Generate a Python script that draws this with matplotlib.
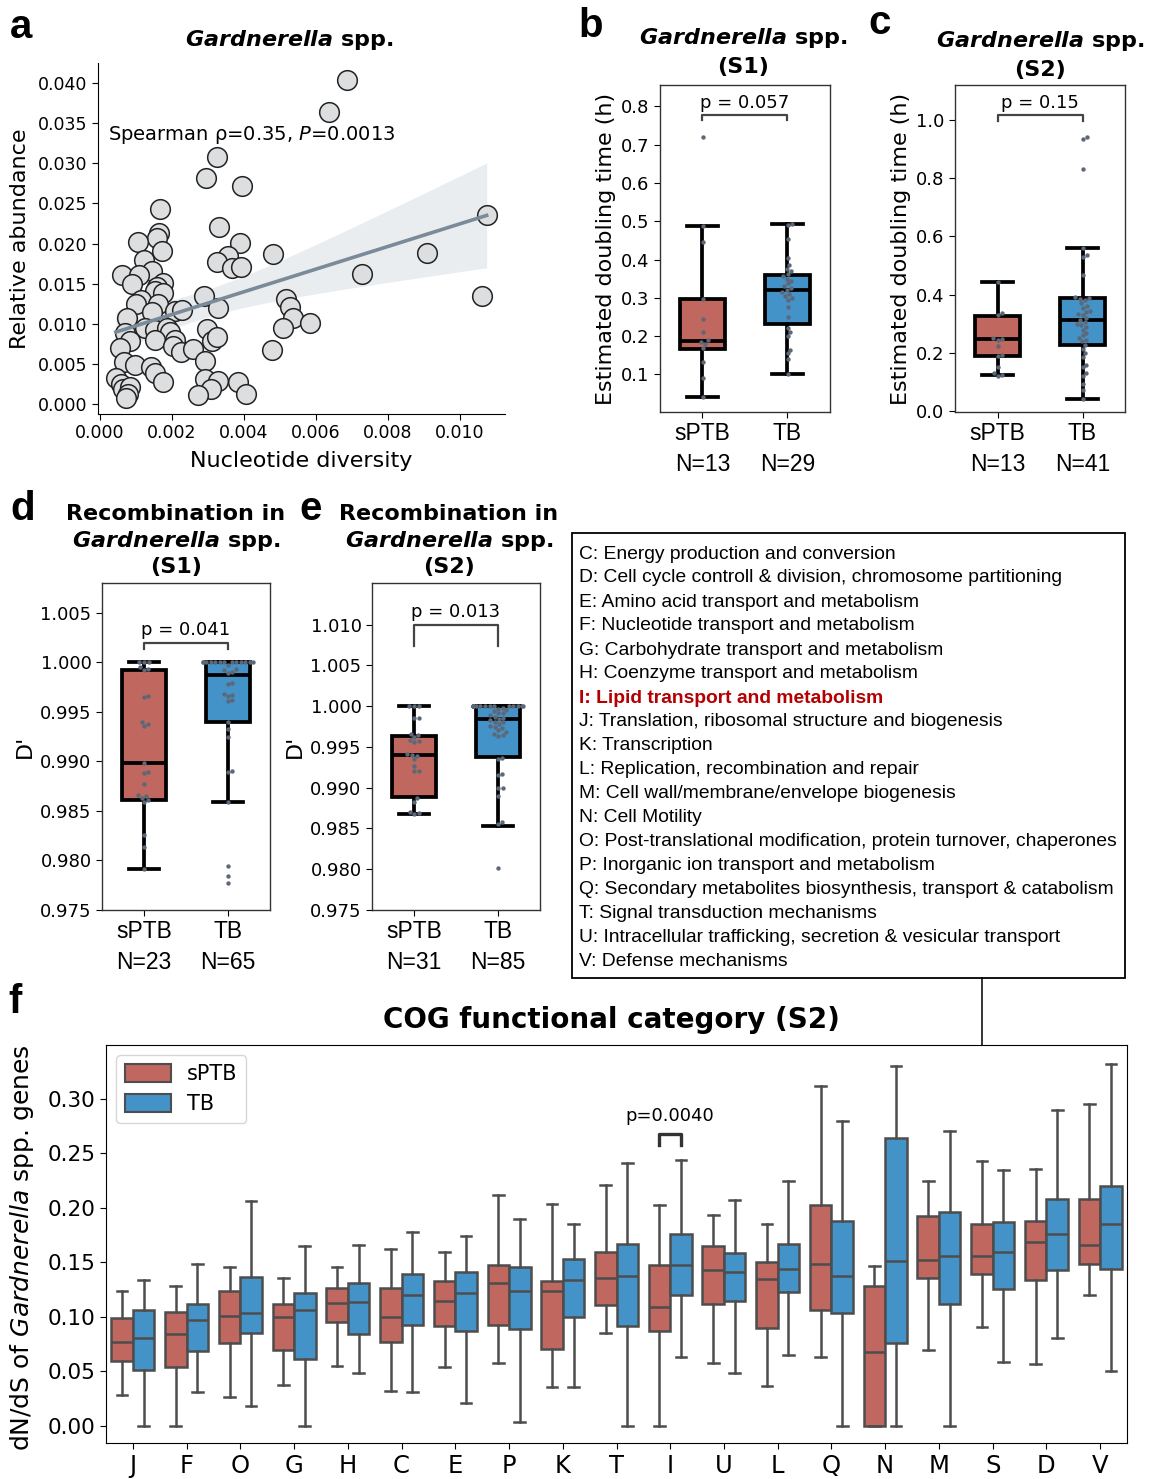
import numpy as np
import matplotlib
matplotlib.use("Agg")
import matplotlib.pyplot as plt
from matplotlib.patches import Rectangle, Patch
from matplotlib.lines import Line2D

# ---------------- data ----------------
# panel a: nucleotide diversity vs relative abundance
a_div = [0.00685, 0.00637, 0.00324, 0.00294, 0.00394, 0.00167, 0.00331, 0.00165, 0.00157,
         0.00171, 0.00389, 0.00106, 0.00481, 0.00907, 0.00355, 0.00326, 0.00368, 0.00391,
         0.00122, 0.00145, 0.00060, 0.00109, 0.00727, 0.00088, 0.00176, 0.00157, 0.00153,
         0.00174, 0.00289, 0.01060, 0.00113, 0.00517, 0.00100, 0.00162, 0.00208, 0.00227,
         0.00329, 0.00528, 0.00144, 0.01074, 0.00074, 0.00535, 0.00583, 0.00069, 0.00125,
         0.00153, 0.00185, 0.00194, 0.00296, 0.00507, 0.00083, 0.00153, 0.00208, 0.00310,
         0.00324, 0.00056, 0.00202, 0.00225, 0.00257, 0.00479, 0.00067, 0.00097, 0.00292,
         0.00141, 0.00153, 0.00176, 0.00044, 0.00057, 0.00063, 0.00083, 0.00078, 0.00072,
         0.00292, 0.00329, 0.00307, 0.00271, 0.00384, 0.00405]
a_abund = [0.0404, 0.0364, 0.0308, 0.0282, 0.0272, 0.0243, 0.0221, 0.0213, 0.0207,
           0.0191, 0.0201, 0.0202, 0.0187, 0.0188, 0.0184, 0.0177, 0.0170, 0.0171,
           0.0179, 0.0166, 0.0161, 0.0161, 0.0162, 0.0150, 0.0151, 0.0146, 0.0141,
           0.0138, 0.0134, 0.0135, 0.0130, 0.0131, 0.0124, 0.0125, 0.0116, 0.0117,
           0.0119, 0.0121, 0.0115, 0.0236, 0.0107, 0.0107, 0.0101, 0.0089, 0.0095,
           0.0092, 0.0095, 0.0090, 0.0093, 0.0095, 0.0078, 0.0080, 0.0080, 0.0078,
           0.0083, 0.0070, 0.0072, 0.0065, 0.0068, 0.0067, 0.0052, 0.0049, 0.0054,
           0.0046, 0.0038, 0.0027, 0.0032, 0.0025, 0.0019, 0.0021, 0.0012, 0.0008,
           0.0031, 0.0029, 0.0019, 0.0011, 0.0027, 0.0012]

groups = ["sPTB", "TB"]

# box statistics: (whisker low, q1, median, q3, whisker high)
b_box = [(0.040, 0.166, 0.187, 0.298, 0.487), (0.102, 0.233, 0.320, 0.361, 0.494)]
c_box = [(0.123, 0.188, 0.246, 0.327, 0.443), (0.043, 0.228, 0.3125, 0.390, 0.559)]
d_box = [(0.9791, 0.98615, 0.98985, 0.99926, 1.0), (0.98592, 0.99398, 0.99868, 1.0, 1.0)]
e_box = [(0.98683, 0.98887, 0.99405, 0.99637, 1.0), (0.98536, 0.99376, 0.99841, 1.0, 1.0)]

# individual samples
b_sptb = [0.72, 0.487, 0.446, 0.298, 0.246, 0.21, 0.19, 0.186, 0.18, 0.17, 0.132, 0.092, 0.04]
b_tb = [0.494, 0.49, 0.455, 0.405, 0.385, 0.375, 0.37, 0.362, 0.356, 0.35, 0.345, 0.338,
        0.33, 0.325, 0.32, 0.315, 0.31, 0.305, 0.30, 0.295, 0.275, 0.25, 0.222, 0.21,
        0.20, 0.165, 0.155, 0.14, 0.102]
c_sptb = [0.443, 0.336, 0.33, 0.25, 0.248, 0.245, 0.222, 0.193, 0.188, 0.153, 0.13, 0.123, 0.122]
c_tb = [0.941, 0.935, 0.833, 0.559, 0.5375, 0.53, 0.467, 0.392, 0.388, 0.385, 0.38, 0.37,
        0.361, 0.355, 0.345, 0.34, 0.335, 0.33, 0.32, 0.312, 0.305, 0.30, 0.295, 0.29,
        0.28, 0.27, 0.26, 0.25, 0.245, 0.24, 0.228, 0.215, 0.20, 0.1875, 0.16, 0.15,
        0.13, 0.12, 0.094, 0.0716, 0.043]
d_sptb = [1.0, 1.0, 1.0, 0.9995, 0.9993, 0.9992, 0.9966, 0.9965, 0.9940, 0.9938, 0.9936,
          0.9898, 0.9889, 0.9888, 0.9877, 0.9866, 0.9865, 0.9863, 0.9861, 0.9859, 0.9826,
          0.9814, 0.9791]
d_tb = [1.0, 1.0, 1.0, 1.0, 1.0, 1.0, 1.0, 1.0, 1.0, 1.0, 1.0, 1.0, 1.0,
        0.9997, 0.9993, 0.9992, 0.9990, 0.9989, 0.9979, 0.9978, 0.9968, 0.9967, 0.9966,
        0.9962, 0.9961, 0.9940, 0.9933, 0.9925, 0.9890, 0.9889, 0.9859, 0.9794, 0.9784,
        0.9777]
e_sptb = [1.0, 1.0, 1.0, 0.9986, 0.9985, 0.9966, 0.9964, 0.9962, 0.9959, 0.9957, 0.9956,
          0.9941, 0.9940, 0.9939, 0.9935, 0.9926, 0.9921, 0.9920, 0.9887, 0.9883, 0.9870,
          0.9869, 0.9868]
e_tb = [1.0, 1.0, 1.0, 1.0, 1.0, 1.0, 1.0, 1.0, 1.0, 1.0, 1.0, 1.0, 1.0, 1.0, 1.0, 1.0,
        0.9998, 0.9997, 0.9995, 0.9994, 0.9992, 0.9991, 0.9989, 0.9987, 0.9986, 0.9984,
        0.9983, 0.9981, 0.9980, 0.9978, 0.9976, 0.9975, 0.9973, 0.9971, 0.9968, 0.9966,
        0.9964, 0.9963, 0.9937, 0.9935, 0.9917, 0.9915, 0.9900, 0.9899, 0.9890, 0.9858,
        0.9855, 0.9802]

b_n = [13, 29]
c_n = [13, 41]
d_n = [23, 65]
e_n = [31, 85]
b_p, c_p, d_p, e_p = "p = 0.057", "p = 0.15", "p = 0.041", "p = 0.013"

# panel f: dN/dS per COG category (whisker low, q1, median, q3, whisker high)
cog_cats = ["J", "F", "O", "G", "H", "C", "E", "P", "K", "T",
            "I", "U", "L", "Q", "N", "M", "S", "D", "V"]
f_sptb = [(0.028, 0.060, 0.077, 0.099, 0.124), (0.000, 0.054, 0.084, 0.105, 0.128),
          (0.027, 0.076, 0.101, 0.124, 0.146), (0.038, 0.070, 0.100, 0.112, 0.136),
          (0.055, 0.095, 0.113, 0.127, 0.146), (0.032, 0.077, 0.100, 0.127, 0.162),
          (0.054, 0.092, 0.115, 0.133, 0.160), (0.058, 0.093, 0.131, 0.148, 0.212),
          (0.036, 0.071, 0.124, 0.133, 0.204), (0.085, 0.111, 0.136, 0.160, 0.221),
          (0.000, 0.087, 0.109, 0.148, 0.203), (0.058, 0.112, 0.143, 0.165, 0.194),
          (0.037, 0.090, 0.135, 0.150, 0.185), (0.063, 0.106, 0.149, 0.203, 0.312),
          (0.000, 0.000, 0.068, 0.128, 0.147), (0.070, 0.136, 0.152, 0.193, 0.225),
          (0.091, 0.139, 0.156, 0.185, 0.243), (0.057, 0.134, 0.169, 0.188, 0.236),
          (0.120, 0.149, 0.166, 0.208, 0.295)]
f_tb = [(0.000, 0.051, 0.081, 0.106, 0.134), (0.031, 0.069, 0.097, 0.112, 0.149),
        (0.018, 0.085, 0.104, 0.137, 0.206), (0.000, 0.061, 0.106, 0.122, 0.165),
        (0.049, 0.084, 0.114, 0.131, 0.166), (0.031, 0.093, 0.120, 0.139, 0.178),
        (0.021, 0.087, 0.122, 0.141, 0.174), (0.004, 0.089, 0.124, 0.146, 0.190),
        (0.036, 0.100, 0.134, 0.153, 0.185), (0.000, 0.092, 0.138, 0.167, 0.241),
        (0.063, 0.120, 0.148, 0.176, 0.244), (0.049, 0.115, 0.141, 0.159, 0.207),
        (0.065, 0.123, 0.144, 0.167, 0.225), (0.000, 0.104, 0.138, 0.188, 0.280),
        (0.000, 0.076, 0.151, 0.264, 0.330), (0.000, 0.112, 0.156, 0.196, 0.271),
        (0.059, 0.126, 0.160, 0.187, 0.235), (0.081, 0.143, 0.176, 0.208, 0.290),
        (0.050, 0.144, 0.185, 0.220, 0.332)]
f_sig_cat = "I"
f_sig_text = "p=0.0040"

cog_legend = [
    "C: Energy production and conversion",
    "D: Cell cycle controll & division, chromosome partitioning",
    "E: Amino acid transport and metabolism",
    "F: Nucleotide transport and metabolism",
    "G: Carbohydrate transport and metabolism",
    "H: Coenzyme transport and metabolism",
    "I: Lipid transport and metabolism",
    "J: Translation, ribosomal structure and biogenesis",
    "K: Transcription",
    "L: Replication, recombination and repair",
    "M: Cell wall/membrane/envelope biogenesis",
    "N: Cell Motility",
    "O: Post-translational modification, protein turnover, chaperones",
    "P: Inorganic ion transport and metabolism",
    "Q: Secondary metabolites biosynthesis, transport & catabolism",
    "T: Signal transduction mechanisms",
    "U: Intracellular trafficking, secretion & vesicular transport",
    "V: Defense mechanisms",
]

# ---------------- style ----------------
C_SPTB = "#c0675f"
C_TB = "#4393c8"
C_DOT = "#5c6878"
ARIAL = "Liberation Sans"
plt.rcParams["font.family"] = ["DejaVu Sans"]
plt.rcParams["mathtext.fontset"] = "dejavusans"

W, H = 1154, 1479
fig = plt.figure(figsize=(W / 100, H / 100), dpi=100)


def ax_px(left, top, right, bottom):
    return fig.add_axes([left / W, 1 - bottom / H, (right - left) / W, (bottom - top) / H])


def stats_of(t, label=""):
    lo, q1, med, q3, hi = t
    return dict(whislo=lo, q1=q1, med=med, q3=q3, whishi=hi, fliers=[], label=label)


def swarm_offsets(ax, center, values, dot_px=4.6, max_off=0.3):
    """Beeswarm placement in display space; returns data x positions."""
    tr = ax.transData
    inv = tr.inverted()
    cx = tr.transform((center, 0))[0]
    lim_px = tr.transform((center + max_off, 0))[0] - cx
    placed = []
    xs = np.zeros(len(values))
    for i in np.argsort(values):
        y = tr.transform((center, values[i]))[1]
        neigh = [(px, py) for px, py in placed if abs(py - y) < dot_px]
        cands = [cx]
        for px, py in neigh:
            dx = np.sqrt(max(dot_px ** 2 - (py - y) ** 2, 0))
            cands += [px + dx, px - dx]
        cands.sort(key=lambda c: abs(c - cx))
        pos = cx
        for c in cands:
            if all((c - px) ** 2 + (y - py) ** 2 >= dot_px ** 2 - 1e-6 for px, py in neigh):
                pos = c
                break
        pos = min(max(pos, cx - lim_px), cx + lim_px)
        placed.append((pos, y))
        xs[i] = inv.transform((pos, y))[0]
    return xs


def letter(x, y, s):
    fig.text(x / W, 1 - y / H, s, fontsize=29, fontweight="bold", family=ARIAL,
             va="baseline", ha="left")


TITLE_FS = 16

# ---------------- panel a ----------------
ax = ax_px(98, 63, 505, 414)
ax.set_xlim(-0.0000556, 0.01125)
ax.set_ylim(-0.00125, 0.0425)
x = np.array(a_div)
y = np.array(a_abund)
slope, icpt = np.polyfit(x, y, 1)
xx = np.linspace(x.min(), x.max(), 100)
yy = icpt + slope * xx
n = len(x)
resid = y - (icpt + slope * x)
s = np.sqrt(np.sum(resid ** 2) / (n - 2))
sxx = np.sum((x - x.mean()) ** 2)
half = 1.99 * s * np.sqrt(1 / n + (xx - x.mean()) ** 2 / sxx)
ax.fill_between(xx, yy - half, yy + half, color="#778899", alpha=0.15, lw=0, zorder=1)
ax.scatter(x, y, s=200, facecolor="#dcdee0", edgecolor="#222222", lw=1.1, zorder=3)
ax.plot(xx, yy, color="#7b8a99", lw=2.6, zorder=4)
ax.set_xticks(np.arange(0, 0.0101, 0.002))
ax.set_xticklabels([f"{v:.3f}" for v in np.arange(0, 0.0101, 0.002)])
ax.set_yticks(np.arange(0, 0.0401, 0.005))
ax.set_yticklabels([f"{v:.3f}" for v in np.arange(0, 0.0401, 0.005)])
ax.tick_params(labelsize=12.5, length=4)
for sp in ["top", "right"]:
    ax.spines[sp].set_visible(False)
ax.set_xlabel("Nucleotide diversity", fontsize=16, labelpad=6)
ax.set_ylabel("Relative abundance", fontsize=16, labelpad=6)
ax.set_title(r"$\mathbfit{Gardnerella}$ spp.", fontsize=TITLE_FS, fontweight="bold", pad=12,
             x=0.47)
ax.text(0.025, 0.795, r"Spearman ρ=0.35, $\it{P}$=0.0013", transform=ax.transAxes,
        fontsize=14, va="center", ha="left")
letter(10, 38, "a")


# ---------------- panels b-e ----------------
def box_panel(box, left, top, right, bottom, sptb_pts, tb_pts, ylim, yticks, fmt,
              title, ylabel, ns, ptxt, br_top, br_low, ptxt_y, title_pad, title_ls, title_x):
    ax = ax_px(left, top, right, bottom)
    ax.set_xlim(-0.5, 1.5)
    ax.set_ylim(*ylim)
    st = [stats_of(box[0]), stats_of(box[1])]
    lw = 2.7
    res = ax.bxp(st, positions=[0, 1], widths=0.52, patch_artist=True, showfliers=False,
                 capwidths=0.36,
                 boxprops=dict(edgecolor="black", linewidth=lw),
                 medianprops=dict(color="black", linewidth=lw),
                 whiskerprops=dict(color="black", linewidth=lw),
                 capprops=dict(color="black", linewidth=lw))
    for patch, col in zip(res["boxes"], [C_SPTB, C_TB]):
        patch.set_facecolor(col)
    for k, pts in enumerate([sptb_pts, tb_pts]):
        xs = swarm_offsets(ax, k, pts)
        ax.scatter(xs, pts, s=10, color=C_DOT, lw=0, zorder=5)
    ax.plot([0, 0, 1, 1], [br_low, br_top, br_top, br_low], color="#444444", lw=1.6)
    ax.text(0.5, ptxt_y, ptxt, ha="center", va="bottom", fontsize=13)
    ax.set_yticks(yticks)
    ax.set_yticklabels([fmt.format(v) for v in yticks])
    ax.set_xticks([0, 1])
    ax.set_xticklabels([f"{g}\nN={m}" for g, m in zip(groups, ns)], family=ARIAL,
                       fontsize=16.5, linespacing=1.4)
    ax.tick_params(axis="y", labelsize=13, length=4)
    ax.tick_params(axis="x", length=4)
    for sp in ax.spines.values():
        sp.set_color("#333333")
        sp.set_linewidth(1.0)
    ax.set_ylabel(ylabel, fontsize=16, labelpad=4)
    ax.set_title(title, fontsize=TITLE_FS, fontweight="bold", pad=title_pad,
                 linespacing=title_ls, x=title_x)
    return ax


gard = r"$\mathbfit{Gardnerella}$ spp."
box_panel(b_box, 660, 85, 830, 412, b_sptb, b_tb, (0.002, 0.856),
          [0.1, 0.2, 0.3, 0.4, 0.5, 0.6, 0.7, 0.8], "{:.1f}",
          gard + "\n(S1)", "Estimated doubling time (h)", b_n, b_p, 0.778, 0.764, 0.786,
          8.5, 1.45, 0.49)
box_panel(c_box, 955, 85, 1125, 412, c_sptb, c_tb, (-0.003, 1.12),
          [0.0, 0.2, 0.4, 0.6, 0.8, 1.0], "{:.1f}",
          gard + "\n(S2)", "Estimated doubling time (h)", c_n, c_p, 1.017, 0.998, 1.027,
          6.5, 1.45, 0.5)
box_panel(d_box, 102, 583, 270, 910, d_sptb, d_tb, (0.975, 1.008),
          [0.975, 0.980, 0.985, 0.990, 0.995, 1.000, 1.005], "{:.3f}",
          "Recombination in\n" + gard + "\n(S1)", "D'", d_n, d_p, 1.0019, 1.0013, 1.0023,
          7, 1.28, 0.44)
box_panel(e_box, 372, 583, 540, 910, e_sptb, e_tb, (0.975, 1.0151),
          [0.975, 0.980, 0.985, 0.990, 0.995, 1.000, 1.005, 1.010], "{:.3f}",
          "Recombination in\n" + gard + "\n(S2)", "D'", e_n, e_p, 1.0100, 1.0074, 1.0104,
          7, 1.28, 0.458)
letter(578, 37, "b")
letter(868, 34, "c")
letter(10, 520, "d")
letter(299, 520, "e")

# ---------------- COG legend box ----------------
fig.add_artist(Rectangle((572 / W, 1 - 978 / H), 553 / W, 445 / H, transform=fig.transFigure,
                         fill=False, ec="black", lw=1.3))
for i, line in enumerate(cog_legend):
    bold = line.startswith(f_sig_cat + ":")
    fig.text(579 / W, 1 - (554 + 24 * i) / H, line, family=ARIAL, fontsize=13.9,
             va="center", ha="left", color="#b40000" if bold else "black",
             fontweight="bold" if bold else "normal")
fig.add_artist(Line2D([982 / W, 982 / W], [1 - 978 / H, 1 - 1045 / H],
                      transform=fig.transFigure, color="black", lw=1.1))

# ---------------- panel f ----------------
axf = ax_px(106, 1045, 1127, 1443)
axf.set_xlim(-0.5, len(cog_cats) - 0.5)
axf.set_ylim(-0.0156, 0.3495)
pos = np.arange(len(cog_cats))
gl = "#4d4d4d"
for stats, off, col in [(f_sptb, -0.2, C_SPTB), (f_tb, 0.2, C_TB)]:
    res = axf.bxp([stats_of(t) for t in stats], positions=pos + off, widths=0.4,
                  patch_artist=True, showfliers=False, capwidths=0.2,
                  boxprops=dict(edgecolor=gl, linewidth=1.8),
                  medianprops=dict(color=gl, linewidth=1.8),
                  whiskerprops=dict(color=gl, linewidth=1.8),
                  capprops=dict(color=gl, linewidth=1.8))
    for patch in res["boxes"]:
        patch.set_facecolor(col)
k = cog_cats.index(f_sig_cat)
axf.plot([k - 0.2, k - 0.2, k + 0.2, k + 0.2], [0.258, 0.2675, 0.2675, 0.258],
         color="#333333", lw=2.4)
axf.text(k, 0.276, f_sig_text, ha="center", va="bottom", fontsize=13)
axf.set_xticks(pos)
axf.set_xticklabels(cog_cats, fontsize=17.5)
yt = np.arange(0, 0.301, 0.05)
axf.set_yticks(yt)
axf.set_yticklabels([f"{v:.2f}" for v in yt])
axf.tick_params(axis="y", labelsize=15.5, length=4)
axf.tick_params(axis="x", length=4, pad=4)
axf.set_ylabel(r"dN/dS of $\it{Gardnerella}$ spp. genes", fontsize=18, labelpad=4)
axf.yaxis.set_label_coords(-0.069, 0.49)
axf.set_title("COG functional category (S2)", fontsize=20, fontweight="bold", pad=12,
              x=0.495)
handles = [Patch(facecolor=C_SPTB, edgecolor=gl, lw=1.5, label="sPTB"),
           Patch(facecolor=C_TB, edgecolor=gl, lw=1.5, label="TB")]
axf.legend(handles=handles, loc="upper left", fontsize=15, handlelength=2.2,
           handleheight=0.95, borderaxespad=0.5, handletextpad=0.8)
letter(8, 1013, "f")

fig.savefig("out.png", dpi=100)
